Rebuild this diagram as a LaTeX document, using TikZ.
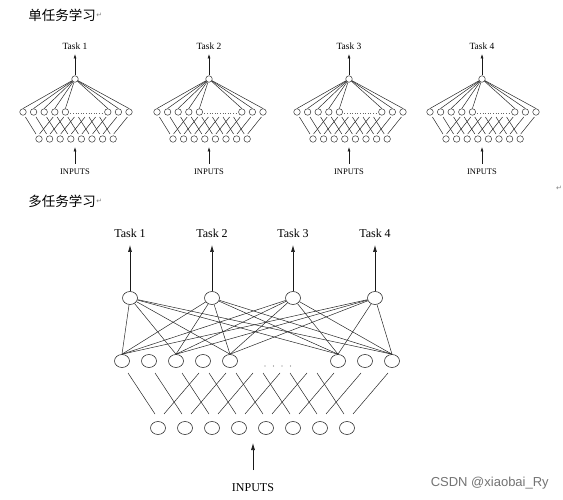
\documentclass[tikz,border=0pt]{standalone}
\usepackage{fontspec}
\setmainfont{Liberation Serif}
\newfontfamily\cjk{Noto Sans CJK SC}
\newfontfamily\dejavu{DejaVu Sans}
\newfontfamily\wmfont{Liberation Sans}
\usetikzlibrary{arrows.meta,shapes.geometric}
\begin{document}
\begin{tikzpicture}[x=1pt,y=-1pt,
  line width=0.5pt,
  wire/.style={draw=black!85, line width=0.5pt},
  bign/.style={draw=black!80, ellipse, line width=0.6pt, minimum width=15pt, minimum height=13pt, inner sep=0pt},
  smalln/.style={draw=black!80, circle, line width=0.5pt, minimum size=6.5pt, inner sep=0pt},
  bigarrow/.style={draw=black!90, line width=0.7pt, -{Latex[length=7pt,width=4pt]}},
  smallarrow/.style={draw=black!90, line width=0.6pt, -{Latex[length=4.5pt,width=3pt]}},
  bigtext/.style={font=\fontsize{12}{14}\selectfont, text=black, inner sep=1pt},
  smalltask/.style={font=\fontsize{9.5}{11}\selectfont, text=black, inner sep=1pt},
  smallin/.style={font=\fontsize{8.5}{10}\selectfont, text=black, inner sep=1pt},
  heading/.style={font=\cjk\fontsize{13.5}{16}\selectfont, anchor=west, inner sep=0pt},
  pmark/.style={font=\dejavu\fontsize{7}{8}\selectfont, text=black!50, inner sep=0pt}
]
\useasboundingbox (0,0) rectangle (563,500);

% headings
\node[heading] (h1) at (28,15) {单任务学习};
\node[pmark, anchor=west] (p1) at (h1.east) {↵};
\node[heading] (h2) at (28,201) {多任务学习};
\node[pmark, anchor=west] (p2) at (h2.east) {↵};
\node[pmark] (p3) at (559,188) {↵};

% ---------- single-task networks ----------
\foreach \c/\t in {75/1, 209/2, 349/3, 482/4} {
  \begin{scope}[shift={(\c,0)}]
    \node[smalln] (so\t) at (0,79) {};
    \foreach \k in {0,1,2,3,4,8,9,10}
      \node[smalln] (sh\t-\k) at ({-52+10.6*\k},112) {};
    \foreach \j in {0,...,7}
      \node[smalln] (si\t-\j) at ({-36+10.6*\j},139) {};
    \foreach \k in {0,1,2,3,4,8,9,10}
      \draw[wire] (so\t) -- (sh\t-\k.north);
    \foreach \k in {0,...,7}
      \draw[wire] ({-52+2.4+10.6*\k},117) -- ({-52+13+10.6*\k},134);
    \foreach \m in {0,...,7}
      \draw[wire] ({-52+104.4-10.6*\m},117) -- ({-52+90.7-10.6*\m},134);
    \draw[black!60, line width=0.6pt, dotted] ({-52+10.6*4+5},113) -- ({-52+10.6*8-5},113);
    \node[smalltask] (st\t) at (0,46) {Task \t};
    \draw[smallarrow] (so\t.north) -- (0,54);
    \node[smallin] (sin\t) at (0,172) {INPUTS};
    \coordinate (sa\t) at (0,164);
    \draw[smallarrow] (sa\t) -- (0,147);
  \end{scope}
}

% ---------- multi-task network ----------
\foreach \k in {0,1,2,3,4,8,9,10}
  \node[bign] (bh\k) at ({122+27*\k},361) {};
\foreach \j in {0,...,7}
  \node[bign] (bi\j) at ({158+27*\j},428) {};
\foreach \x/\t in {130/1, 212/2, 293/3, 375/4} {
  \node[bign] (bo\t) at (\x,298) {};
  \node[bigtext] (bt\t) at (\x,233) {Task \t};
  \coordinate (ba\t) at (\x,245);
  \draw[bigarrow] (bo\t.north) -- (ba\t);
}
\foreach \t in {1,2,3,4}
  \foreach \k in {0,2,4,8,10}
    \draw[wire] (bo\t) -- (bh\k.north);
\foreach \k in {0,...,7}
  \draw[wire] ({128+27*\k},373) -- ({155+27*\k},414);
\foreach \m in {0,...,7}
  \draw[wire] ({388-27*\m},373) -- ({353-27*\m},414);
\foreach \x in {265,273.5,282,290.5}
  \fill[black!55] (\x,366) circle (0.6pt);
\node[bigtext] (bin) at (253,488) {INPUTS};
\coordinate (bia) at (253,470);
\draw[bigarrow] (bia) -- (253,443);

% watermark
\node[anchor=east, text=black!55, inner sep=0pt, font=\wmfont\fontsize{13}{15}\selectfont] (wm) at (549,483) {CSDN @xiaobai\_Ry};
\end{tikzpicture}
\end{document}
